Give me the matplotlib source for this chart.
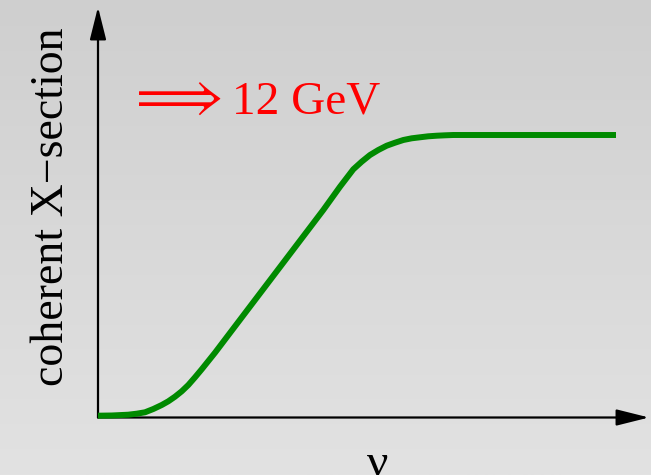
import numpy as np
import matplotlib
matplotlib.use("Agg")
import matplotlib.pyplot as plt
from matplotlib.colors import LinearSegmentedColormap

# Data (arbitrary units: nu, cross-section normalised to plateau = 1)
nu = [0.0, 0.264, 0.585, 0.747, 0.907, 1.068, 1.230, 1.357, 1.486, 1.616, 1.743,
      1.873, 2.002, 2.259, 2.581, 4.349, 4.672, 4.929, 5.091, 5.251, 5.411, 5.573,
      5.734, 5.894, 6.056, 6.216, 6.376, 6.539, 6.699, 6.859, 10.0]
xsec = [0.0064, 0.0071, 0.0099, 0.0135, 0.0184, 0.0301, 0.0442, 0.0573, 0.0736,
        0.0927, 0.1150, 0.1423, 0.1706, 0.2294, 0.3073, 0.7345, 0.8170, 0.8786,
        0.9055, 0.9292, 0.9469, 0.9621, 0.9727, 0.9823, 0.9883, 0.9919, 0.9954,
        0.9975, 0.9989, 1.0, 1.0]
ylabel = "coherent X\u2212section"
xlabel = "\u03bd"
note = "12 GeV"

W, H = 651, 475
plt.rcParams["mathtext.fontset"] = "stix"
fig = plt.figure(figsize=(W / 100, H / 100), dpi=100)

# gradient background
bg = fig.add_axes([0, 0, 1, 1])
grad = np.linspace(0, 1, 256).reshape(-1, 1)
cmap = LinearSegmentedColormap.from_list("g", ["#cfcfcf", "#e2e2e2"])
bg.imshow(grad, aspect="auto", cmap=cmap, extent=[0, 1, 0, 1], origin="upper")
bg.axis("off")

ax = fig.add_axes([0, 0, 1, 1])
ax.patch.set_alpha(0)
sx, sy = 51.8, 282.5
x0, y0 = 98, 417.5
ax.set_xlim(-x0 / sx, (W - x0) / sx)
ax.set_ylim(-(H - y0) / sy, y0 / sy)
ax.axis("off")

xmax = (649 - x0) / sx
ymax = (y0 - 7) / sy
ap = dict(arrowstyle="-|>,head_length=2.0,head_width=0.5", mutation_scale=10,
          lw=1.6, color="black", shrinkA=0, shrinkB=0)
ax.annotate("", xy=(xmax, 0), xytext=(0, 0), arrowprops=ap)
ax.annotate("", xy=(0, ymax), xytext=(0, 0), arrowprops=ap)

ax.plot(nu, xsec, color="#008a00", lw=4.3, solid_capstyle="butt",
        solid_joinstyle="round", zorder=3)

def px(x, y):
    return x / W, 1 - y / H

fig.text(*px(63, 207), ylabel, rotation=90, rotation_mode="anchor",
         ha="center", va="baseline", family="Liberation Serif", fontsize=33, color="black")
fig.text(*px(378, 476), xlabel, ha="center", va="baseline",
         family="Liberation Serif", fontsize=34, color="black")
fig.text(*px(127, 113), r"$\Longrightarrow$", ha="left", va="baseline",
         fontsize=40, color="red")
fig.text(*px(232, 114), note, ha="left", va="baseline",
         family="Liberation Serif", fontsize=34, color="red")

fig.savefig("out.png", dpi=100)
